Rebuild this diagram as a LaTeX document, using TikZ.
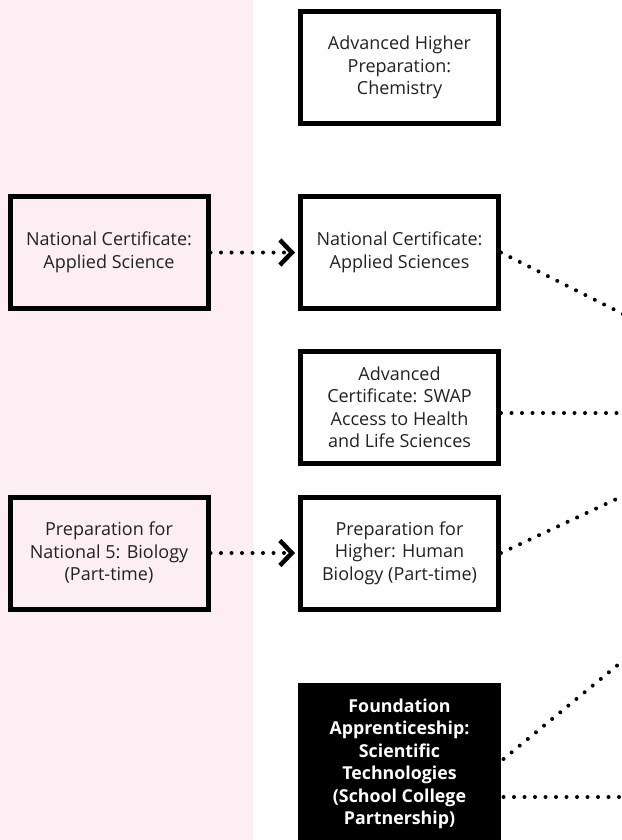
\documentclass[tikz,border=0pt]{standalone}
\usepackage{fontspec}
\setmainfont{Open Sans}
\usetikzlibrary{arrows.meta}
\definecolor{pathPink}{HTML}{FDEEF3}
\definecolor{pathInk}{HTML}{222222}
\begin{document}
\begin{tikzpicture}[x=1pt,y=-1pt,line join=miter]
\useasboundingbox (0,0) rectangle (621,840);
\path[fill=pathPink] (0,0) rectangle (253,840);
\tikzset{course/.style={draw=black,line width=5pt,minimum width=198pt,minimum height=112pt,align=center,text=pathInk,font=\fontsize{18}{22.5}\selectfont,inner sep=0pt},
  blackcourse/.style={course,draw=none,fill=black,text=white,minimum width=203pt,minimum height=162pt,font=\fontsize{17.8}{22.5}\selectfont\bfseries},
  dotlink/.style={draw=black,line width=4pt,line cap=round,dash pattern=on 0pt off 10.5pt},
  chevron/.style={-{Straight Barb[length=12pt,width=25pt,line width=4.5pt]},shorten >=3pt}}
% left column (pink band)
\node[course] (ncLeft) at (109,252.5) {National Certificate:\\Applied Science};
\node[course] (prepLeft) at (109,553) {Preparation for\\National 5: Biology\\(Part-time)};
% middle column
\node[course,fill=white] (ahChem) at (399.5,67.5) {Advanced Higher\\Preparation:\\Chemistry};
\node[course,fill=white] (ncMid) at (399.5,252.5) {National Certificate:\\Applied Sciences};
\node[course,fill=white] (swap) at (399.5,407) {Advanced\\Certificate: SWAP\\Access to Health\\and Life Sciences};
\node[course,fill=white] (prepMid) at (399.5,553) {Preparation for\\Higher: Human\\Biology (Part-time)};
\node[blackcourse] (fa) at (399.5,764) {Foundation\\Apprenticeship:\\Scientific\\Technologies\\(School College\\Partnership)};
% free ends past the right edge
\coordinate (ncOut) at (625,315);
\coordinate (swapOut) at (625,413);
\coordinate (prepOut) at (625,495);
\coordinate (faOutA) at (625,659);
\coordinate (faOutB) at (625,797);
\draw[dotlink,chevron] (ncLeft.east) -- (ncMid.west);
\draw[dotlink,chevron] (prepLeft.east) -- (prepMid.west);
\draw[dotlink] (ncMid.east) -- (ncOut);
\draw[dotlink] ([yshift=-6pt]swap.east) -- (swapOut);
\draw[dotlink] (prepMid.east) -- (prepOut);
\draw[dotlink] ([yshift=5pt]fa.east) -- (faOutA);
\draw[dotlink] ([yshift=-33pt]fa.east) -- (faOutB);
\end{tikzpicture}
\end{document}
